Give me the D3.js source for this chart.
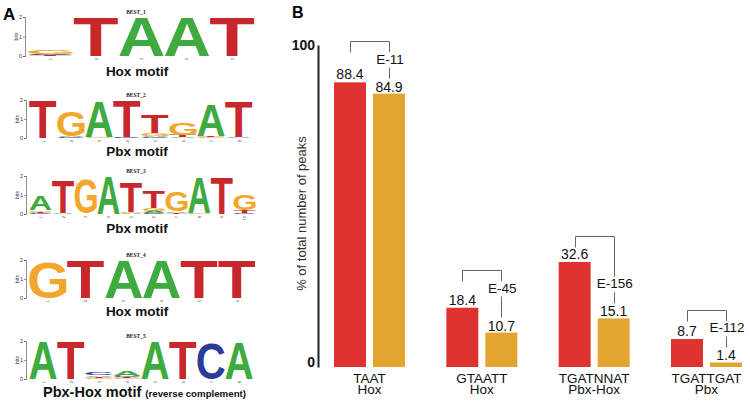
<!DOCTYPE html>
<html><head><meta charset="utf-8">
<script src="https://cdn.jsdelivr.net/npm/d3@7"></script>
<style>body{margin:0;background:#fff} svg{display:block}</style>
</head><body>
<svg id="c" width="750" height="402"></svg>
<script>
// ---------- Panel B data ----------
const categories = ["TAAT", "GTAATT", "TGATNNAT", "TGATTGAT"];
const motifClass = ["Hox", "Hox", "Pbx-Hox", "Pbx"];
const seriesRed = [88.4, 18.4, 32.6, 8.7];
const seriesOrange = [84.9, 10.7, 15.1, 1.4];
const pValues = ["E-11", "E-45", "E-156", "E-112"];
const yTicks = [0, 100];
const yTitle = "% of total number of peaks";

// ---------- Panel A data (bits per base, per position) ----------
const logoTitles = ["BEST_1", "BEST_2", "BEST_3", "BEST_4", "BEST_5"];
const logoCaptions = ["Hox motif", "Pbx motif", "Pbx motif", "Hox motif", "Pbx-Hox motif"];
const logoCaptionNote = ["", "", "", "", "(reverse complement)"];
const logo1 = [
  {G: 0.18, C: 0.05, A: 0.04, T: 0.03},
  {T: 2.0}, {A: 2.0}, {A: 2.0}, {T: 2.0}
];
const logo2 = [
  {T: 1.95, A: 0.02},
  {G: 1.3, A: 0.05, C: 0.04},
  {A: 1.85, G: 0.03},
  {T: 1.9, C: 0.03},
  {T: 0.95, G: 0.15, A: 0.05, C: 0.04},
  {G: 0.65, T: 0.1, A: 0.05},
  {A: 1.6, T: 0.05, G: 0.04},
  {T: 1.85, A: 0.03}
];
const logo3 = [
  {A: 0.75, T: 0.08, G: 0.08, C: 0.04},
  {T: 1.7, A: 0.04},
  {G: 1.8, A: 0.02},
  {A: 1.95},
  {T: 1.6, G: 0.06, A: 0.05},
  {T: 0.85, G: 0.15, A: 0.1, C: 0.04},
  {G: 1.05, A: 0.08, T: 0.05},
  {A: 1.85, G: 0.03},
  {T: 1.9},
  {G: 0.8, T: 0.15, C: 0.05}
];
const logo4 = [
  {G: 1.85}, {T: 2.0}, {A: 2.0}, {A: 2.0}, {T: 1.95}, {T: 1.95}
];
const logo5 = [
  {A: 2.0}, {T: 1.95},
  {C: 0.12, A: 0.08, G: 0.06, T: 0.06},
  {A: 0.25, C: 0.08, G: 0.05, T: 0.05},
  {A: 1.95}, {T: 1.95}, {C: 1.85}, {A: 1.9}
];
const logoData = [logo1, logo2, logo3, logo4, logo5];

// ---------- drawing ----------
const FONT = "'Liberation Sans', Arial, Helvetica, sans-serif";
const svg = d3.select("#c").style("font-family", FONT);
const baseColor = {A: "#3faa3f", C: "#2b3c98", G: "#f2a72c", T: "#c8282c"};

// glyph ink metrics via canvas
const ctx = document.createElement("canvas").getContext("2d");
ctx.font = "bold 100px " + FONT;
const gm = {};
"ACGT".split("").forEach(l => {
  const m = ctx.measureText(l);
  gm[l] = {L: m.actualBoundingBoxLeft, R: m.actualBoundingBoxRight,
           A: m.actualBoundingBoxAscent, D: m.actualBoundingBoxDescent};
});

// panel labels
svg.append("text").attr("x", 3).attr("y", 20).attr("font-size", 17).attr("font-weight", "bold").text("A");
svg.append("text").attr("x", 292).attr("y", 18).attr("font-size", 16).attr("font-weight", "bold").text("B");

// logo layout (pixels)
const logoLayout = [
  {x0: 28, x1: 255, y2: 17, y0: 56, cap: 76},
  {x0: 29, x1: 253, y2: 100, y0: 138, cap: 156},
  {x0: 29, x1: 256, y2: 176, y0: 214, cap: 233},
  {x0: 29, x1: 256, y2: 260, y0: 298, cap: 316},
  {x0: 29, x1: 253, y2: 341, y0: 379, cap: 397}
];

logoData.forEach((cols, i) => {
  const L = logoLayout[i];
  const g = svg.append("g");
  const x = d3.scaleBand().domain(d3.range(cols.length)).range([L.x0, L.x1]);
  const y = d3.scaleLinear().domain([0, 2]).range([L.y0, L.y2]);
  // axis
  const ax = g.append("g").attr("transform", `translate(${L.x0 - 3},0)`)
    .call(d3.axisLeft(y).tickValues([0, 1, 2]).tickSize(2).tickPadding(1).tickFormat(d3.format("d")));
  ax.select(".domain").attr("stroke", "#444").attr("stroke-width", 0.6);
  ax.selectAll(".tick line").attr("stroke", "#444").attr("stroke-width", 0.6);
  ax.selectAll("text").attr("font-size", 5.5).attr("font-family", FONT).attr("fill", "#333");
  g.append("text").attr("transform", `translate(${L.x0 - 10},${(L.y0 + L.y2) / 2}) rotate(-90)`)
    .attr("text-anchor", "middle").attr("font-size", 5).attr("fill", "#333").text("bits");
  // title
  g.append("text").attr("x", 136).attr("y", L.y2 - 3).attr("text-anchor", "middle")
    .attr("font-family", "'Liberation Serif', 'DejaVu Serif', serif").attr("font-weight", "bold")
    .attr("font-size", 5.5).attr("fill", "#222").text(logoTitles[i]);
  // position numbers
  cols.forEach((c, j) => {
    g.append("text").attr("transform", `translate(${x(j) + x.bandwidth() / 2 + 1.5},${L.y0 + 2}) rotate(-90)`)
      .attr("text-anchor", "end").attr("font-size", 4).attr("fill", "#444").text(j + 1);
  });
  // letters
  cols.forEach((c, j) => {
    const entries = Object.entries(c).sort((a, b) => a[1] - b[1]);
    let cum = 0;
    entries.forEach(([base, v]) => {
      const yb = y(cum), yt = y(cum + v);
      cum += v;
      const bw = x.bandwidth() - 0.6, bh = yb - yt;
      if (bh <= 0) return;
      const m = gm[base];
      const sx = bw / (m.L + m.R), sy = bh / (m.A + m.D);
      g.append("text")
        .attr("transform", `translate(${x(j) + 0.3},${yt}) scale(${sx},${sy})`)
        .attr("x", m.L).attr("y", m.A)
        .attr("font-size", 100).attr("font-weight", "bold").attr("fill", baseColor[base])
        .text(base);
    });
  });
  // caption
  const cap = g.append("text").attr("font-weight", "bold").attr("fill", "#111");
  if (logoCaptionNote[i]) {
    cap.attr("x", 43).attr("y", L.cap);
    cap.append("tspan").attr("font-size", 14.5).text(logoCaptions[i] + " ");
    cap.append("tspan").attr("font-size", 9.7).text(logoCaptionNote[i]);
  } else {
    cap.attr("x", 137).attr("y", L.cap).attr("text-anchor", "middle").attr("font-size", 13.5).text(logoCaptions[i]);
  }
});

// ---------- Panel B ----------
const yB = d3.scaleLinear().domain([0, 100]).range([367, 45]);
const xG = d3.scaleBand().domain(categories).range([334, 742]).paddingInner(0.368);
const xS = d3.scaleBand().domain(["red", "orange"]).range([0, xG.bandwidth()]).paddingInner(0.18);
const colRed = "#de3330", colOrange = "#e3a52f";
const eLift = [0, 10, 0, 0]; // hand-placed p-value label offsets (px)

const bax = svg.append("g").attr("transform", "translate(318,0)")
  .call(d3.axisLeft(yB).tickValues(yTicks).tickSize(0).tickPadding(3));
bax.select(".domain").attr("stroke", "#222").attr("stroke-width", 2);
bax.selectAll("text").attr("font-size", 14).attr("font-weight", "bold").attr("font-family", FONT).attr("fill", "#111")
  .attr("dy", d => d === 0 ? "-0.05em" : "0.35em");

svg.append("text").attr("transform", `translate(306,${(120 + 307) / 2}) rotate(-90)`)
  .attr("text-anchor", "middle").attr("font-size", 13).attr("fill", "#333").text(yTitle);

const bg = svg.append("g");
categories.forEach((cat, i) => {
  const xr = xG(cat) + xS("red"), xo = xG(cat) + xS("orange"), bw = xS.bandwidth();
  const cxr = xr + bw / 2, cxo = xo + bw / 2;
  const rTop = yB(seriesRed[i]), oTop = yB(seriesOrange[i]);
  bg.append("rect").attr("x", xr).attr("y", rTop).attr("width", bw).attr("height", yB(0) - rTop).attr("fill", colRed);
  bg.append("rect").attr("x", xo).attr("y", oTop).attr("width", bw).attr("height", yB(0) - oTop).attr("fill", colOrange);
  const rBase = rTop - 3, oBase = oTop - 2;
  bg.append("text").attr("x", cxr).attr("y", rBase).attr("text-anchor", "middle").attr("font-size", 14).attr("fill", "#111").text(seriesRed[i]);
  bg.append("text").attr("x", cxo).attr("y", oBase).attr("text-anchor", "middle").attr("font-size", 14).attr("fill", "#111").text(seriesOrange[i]);
  const eBase = oBase - 28 - eLift[i], eCap = eBase - 9.5, rCap = rBase - 10, oCap = oBase - 10;
  bg.append("text").attr("x", cxo + 1).attr("y", eBase).attr("text-anchor", "middle").attr("font-size", 13.5).attr("fill", "#111").text(pValues[i]);
  const by = Math.round(Math.min(rCap, eCap) - 13) + 0.5;
  const lx = Math.round(cxr) + 0.5, rx = Math.round(cxo) + 0.5;
  const line = d3.line();
  bg.append("path").attr("d", line([[lx, by + 11], [lx, by], [rx, by], [rx, eCap - 2]]))
    .attr("fill", "none").attr("stroke", "#666").attr("stroke-width", 1);
  bg.append("path").attr("d", line([[rx, eBase + 4], [rx, oCap - 3]]))
    .attr("fill", "none").attr("stroke", "#666").attr("stroke-width", 1);
  // category labels
  const t = bg.append("text").attr("text-anchor", "middle").attr("font-size", 13.5).attr("fill", "#111");
  t.append("tspan").attr("x", xG(cat) + xG.bandwidth() / 2).attr("y", 383).text(cat);
  t.append("tspan").attr("x", xG(cat) + xG.bandwidth() / 2).attr("y", 394).text(motifClass[i]);
});
</script>
</body></html>
